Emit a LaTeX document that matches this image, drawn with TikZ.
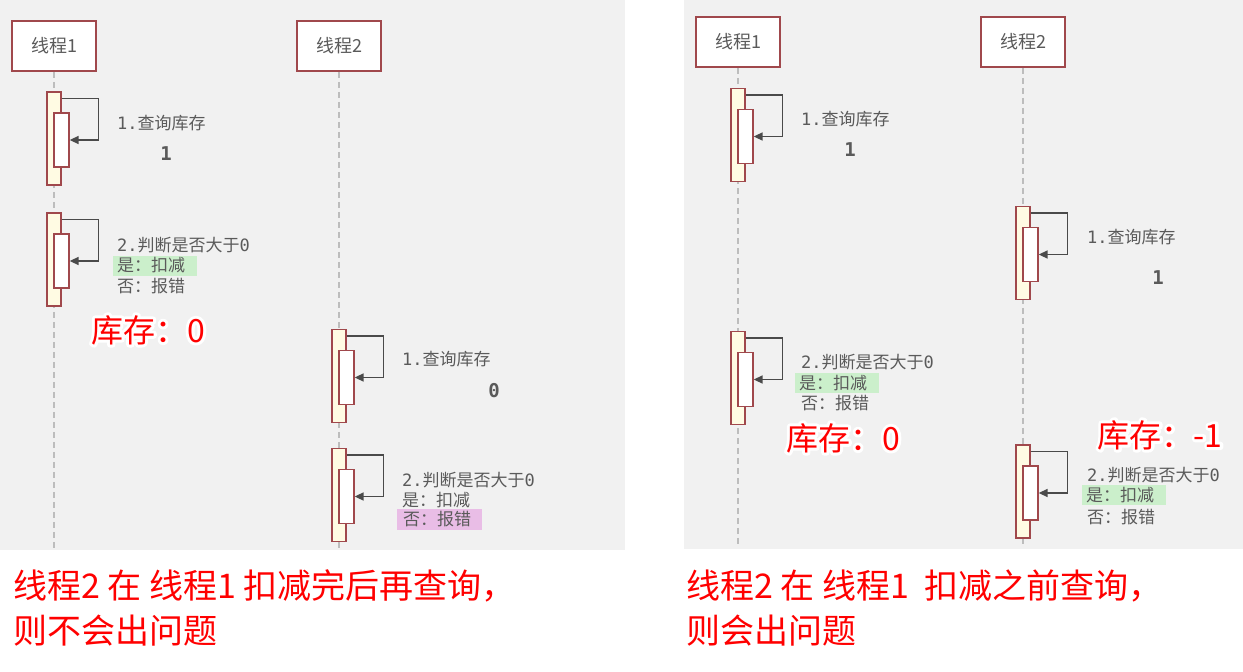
\documentclass[tikz,border=0pt]{standalone}
\usepackage{fontspec}
\setmainfont{Noto Sans CJK SC}
\newfontfamily\monof{DejaVu Sans Mono}
\usetikzlibrary{arrows.meta, positioning}
\definecolor{panelbg}{HTML}{F1F1F1}
\definecolor{lifered}{HTML}{A0484C}
\definecolor{actfill}{HTML}{FFFBE3}
\definecolor{labelgray}{HTML}{5A5A5A}
\definecolor{arrowgray}{HTML}{4A4A4A}
\definecolor{dashgray}{HTML}{BDBDBD}
\definecolor{okgreen}{HTML}{CBEFCB}
\definecolor{errpink}{HTML}{E9BDE6}
\definecolor{warnred}{HTML}{FF0000}
% white outline under the red stock values
\newcommand{\haloed}[1]{%
  \special{pdf:code q 1 1 1 RG 6 w 1 J 1 j 1 Tr}\rlap{#1}\special{pdf:code Q}#1}
\tikzset{
  thread/.style={
    rectangle, draw=lifered, line width=1.5pt, fill=white,
    minimum width=84pt, minimum height=50pt,
    text=labelgray, font=\fontsize{18}{18}\selectfont,
  },
  lifeline/.style={draw=dashgray, line width=1.3pt, dash pattern=on 6pt off 4pt},
  outeract/.style={
    rectangle, draw=lifered, line width=1.3pt, fill=actfill,
    minimum width=14pt, minimum height=93pt, inner sep=0pt,
  },
  inneract/.style={
    rectangle, draw=lifered, line width=1.3pt, fill=white,
    minimum width=15pt, minimum height=54pt, inner sep=0pt,
  },
  selfcall/.style={-{Triangle[length=9pt, width=8pt]}, line width=1.6pt, draw=arrowgray},
  msg/.style={anchor=west, inner sep=0pt, text=labelgray, font=\fontsize{17}{20}\selectfont},
  hlyes/.style={msg, fill=okgreen, inner xsep=4pt, minimum height=20pt, text width=76pt},
  hlno/.style={msg, fill=errpink, inner xsep=6pt, minimum height=21pt, text width=73pt},
  value/.style={text=labelgray, font=\monof\bfseries\fontsize{19}{19}\selectfont},
  stock/.style={text=warnred, inner sep=0pt, font=\fontsize{32}{32}\selectfont},
  caption/.style={anchor=west, align=left, inner sep=0pt, text=warnred, font=\fontsize{34}{45}\selectfont},
}

\begin{document}
\begin{tikzpicture}[x=1pt, y=-1pt]
  \useasboundingbox (0,0) rectangle (1243,672);

  % two screenshots
  \fill[panelbg] (0,0) rectangle (625,550);
  \fill[panelbg] (684,0) rectangle (1243,549);

  % ---- left: thread 2 queries after thread 1 deducted ----
  \node[thread] (lt1) at (54,46) {线程1};
  \node[thread] (lt2) at (339,46) {线程2};
  \coordinate (lt1end) at (54,548);
  \coordinate (lt2end) at (339,548);
  \draw[lifeline] (lt1) -- (lt1end);
  \draw[lifeline] (lt2) -- (lt2end);

  \node[outeract] (lq1) at (54,138.5) {};
  \node[inneract] (lq1i) at ([xshift=7.5pt, yshift=-1.5pt]lq1.center) {};
  \draw[selfcall] ([yshift=-7pt]lq1.north east) -- ++(37,0) |- (lq1i.east);
  \node[msg] (lq1t) at (117,123) {{\monof 1.}查询库存};
  \node[value] (lq1v) at (166,154) {1};

  \node[outeract] (lj1) at (54,259.5) {};
  \node[inneract] (lj1i) at ([xshift=7.5pt, yshift=-1.5pt]lj1.center) {};
  \draw[selfcall] ([yshift=-7pt]lj1.north east) -- ++(37,0) |- (lj1i.east);
  \node[msg] (lj1t) at (117,245) {{\monof 2.}判断是否大于{\monof 0}};
  \node[hlyes] (lj1y) at (113,265.5) {是：扣减};
  \node[msg] (lj1n) at (117,286) {否：报错};
  \node[stock] (ls1) at (148,330) {\haloed{库存：0}};

  \node[outeract] (lq2) at (339,376) {};
  \node[inneract] (lq2i) at ([xshift=7.5pt, yshift=-1.5pt]lq2.center) {};
  \draw[selfcall] ([yshift=-7pt]lq2.north east) -- ++(37,0) |- (lq2i.east);
  \node[msg] (lq2t) at (402,359) {{\monof 1.}查询库存};
  \node[value] (lq2v) at (494,391) {0};

  \node[outeract] (lj2) at (339,495) {};
  \node[inneract] (lj2i) at ([xshift=7.5pt, yshift=-1.5pt]lj2.center) {};
  \draw[selfcall] ([yshift=-7pt]lj2.north east) -- ++(37,0) |- (lj2i.east);
  \node[msg] (lj2t) at (402,480) {{\monof 2.}判断是否大于{\monof 0}};
  \node[msg] (lj2y) at (402,500) {是：扣减};
  \node[hlno] (lj2n) at (397,519.5) {否：报错};

  % ---- right: thread 2 queries before thread 1 deducted ----
  \node[thread] (rt1) at (738,42) {线程1};
  \node[thread] (rt2) at (1023,42) {线程2};
  \coordinate (rt1end) at (738,547);
  \coordinate (rt2end) at (1023,547);
  \draw[lifeline] (rt1) -- (rt1end);
  \draw[lifeline] (rt2) -- (rt2end);

  \node[outeract] (rq1) at (738,135) {};
  \node[inneract] (rq1i) at ([xshift=7.5pt, yshift=-1.5pt]rq1.center) {};
  \draw[selfcall] ([yshift=-7pt]rq1.north east) -- ++(37,0) |- (rq1i.east);
  \node[msg] (rq1t) at (801,119) {{\monof 1.}查询库存};
  \node[value] (rq1v) at (850,150) {1};

  \node[outeract] (rq2) at (1023,253) {};
  \node[inneract] (rq2i) at ([xshift=7.5pt, yshift=-1.5pt]rq2.center) {};
  \draw[selfcall] ([yshift=-7pt]rq2.north east) -- ++(37,0) |- (rq2i.east);
  \node[msg] (rq2t) at (1087,237) {{\monof 1.}查询库存};
  \node[value] (rq2v) at (1158,278) {1};

  \node[outeract] (rj1) at (738,378) {};
  \node[inneract] (rj1i) at ([xshift=7.5pt, yshift=-1.5pt]rj1.center) {};
  \draw[selfcall] ([yshift=-7pt]rj1.north east) -- ++(37,0) |- (rj1i.east);
  \node[msg] (rj1t) at (801,362) {{\monof 2.}判断是否大于{\monof 0}};
  \node[hlyes] (rj1y) at (795,383) {是：扣减};
  \node[msg] (rj1n) at (801,403) {否：报错};
  \node[stock] (rs1) at (843,438) {\haloed{库存：0}};

  \node[outeract] (rj2) at (1023,491.5) {};
  \node[inneract] (rj2i) at ([xshift=7.5pt, yshift=-1.5pt]rj2.center) {};
  \draw[selfcall] ([yshift=-7pt]rj2.north east) -- ++(37,0) |- (rj2i.east);
  \node[msg] (rj2t) at (1087,475) {{\monof 2.}判断是否大于{\monof 0}};
  \node[hlyes] (rj2y) at (1082,495) {是：扣减};
  \node[msg] (rj2n) at (1087,517) {否：报错};
  \node[stock] (rs2) at (1160,435) {\haloed{库存：-1}};

  % captions
  \node[caption] (capl) at (13,608) {线程2 在 线程1 扣减完后再查询，\\则不会出问题};
  \node[caption] (capr) at (686,608) {线程2 在 线程1 \ 扣减之前查询，\\则会出问题};

\end{tikzpicture}
\end{document}
